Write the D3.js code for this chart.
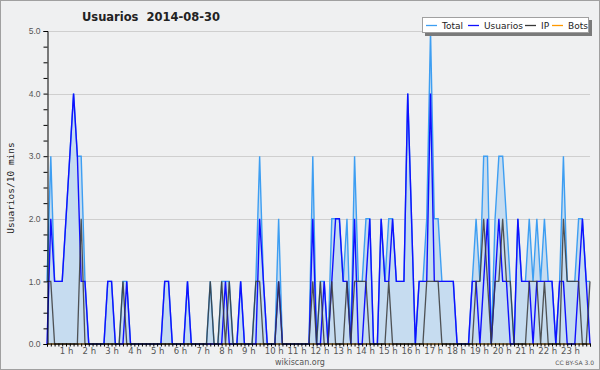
<!DOCTYPE html>
<html>
<head>
<meta charset="utf-8">
<script src="https://cdn.jsdelivr.net/npm/d3@7.9.0/dist/d3.min.js"></script>
<style>
  html, body { margin: 0; padding: 0; background: #fff; }
  svg { display: block; font-family: "DejaVu Sans", sans-serif; }
</style>
</head>
<body>
<div id="chart"></div>
<script>
// 10-minute slots, 00:00 .. 23:50
const usuarios = [
  0,2,1,1,1,2,3,4,3,1,
  1,0,0,0,0,0,1,1,0,0,
  0,1,0,0,0,0,0,0,0,0,
  0,1,1,0,0,0,0,1,0,0,
  0,0,0,0,0,0,0,1,0,0,
  0,1,0,0,0,0,2,1,0,0,
  0,1,0,0,0,0,0,0,0,0,
  2,0,0,1,0,1,2,2,1,1,
  0,2,0,0,1,2,0,0,2,1,
  1,2,1,1,1,4,2,0,1,1,
  1,4,1,1,1,1,1,1,0,0,
  0,0,1,1,0,1,2,0,1,2,
  1,1,0,0,2,1,1,1,0,1,
  1,1,1,1,0,1,1,0,0,0,
  1,2,1,0
];
const ip = [
  1,1,0,0,0,0,0,0,0,2,
  0,0,0,0,0,0,0,0,0,0,
  1,0,0,0,0,0,0,0,0,0,
  0,0,0,0,0,0,0,0,0,0,
  0,0,0,1,0,0,1,0,1,0,
  0,0,0,0,0,1,1,0,0,0,
  0,1,0,0,0,0,0,0,0,0,
  1,0,1,0,0,1,0,0,0,1,
  0,1,1,1,1,0,0,0,0,0,
  1,0,0,0,0,0,0,0,0,0,
  1,1,1,1,0,0,0,0,0,0,
  0,0,0,1,1,2,1,0,1,1,
  2,1,1,0,0,0,0,1,1,1,
  0,1,0,0,0,0,2,1,1,1,
  1,0,0,1
];
const total = [
  1,3,1,1,1,2,3,4,3,3,
  1,0,0,0,0,0,1,1,0,0,
  1,1,0,0,0,0,0,0,0,0,
  0,1,1,0,0,0,0,1,0,0,
  0,0,0,1,0,0,1,1,1,0,
  0,1,0,0,0,1,3,1,0,0,
  0,2,0,0,0,0,0,0,0,0,
  3,0,1,1,0,2,2,2,1,2,
  0,3,1,1,2,2,0,0,2,1,
  2,2,1,1,1,4,2,0,1,1,
  2,5,2,2,1,1,1,1,0,0,
  0,0,1,2,1,3,3,0,2,3,
  3,2,1,0,2,1,1,2,1,2,
  1,2,1,1,0,1,3,1,1,1,
  2,2,1,1
];
const bots = [
  0,0,0,0,0,0,0,0,0,0, 0,0,0,0,0,0,0,0,0,0,
  0,0,0,0,0,0,0,0,0,0, 0,0,0,0,0,0,0,0,0,0,
  0,0,0,0,0,0,0,0,0,0, 0,0,0,0,0,0,0,0,0,0,
  0,0,0,0,0,0,0,0,0,0, 0,0,0,0,0,0,0,0,0,0,
  0,0,0,0,0,0,0,0,0,0, 0,0,0,0,0,0,0,0,0,0,
  0,0,0,0,0,0,0,0,0,0, 0,0,0,0,0,0,0,0,0,0,
  0,0,0,0,0,0,0,0,0,0, 0,0,0,0,0,0,0,0,0,0,
  0,0,0,0
];

const hourLabels = ['1 h','2 h','3 h','4 h','5 h','6 h','7 h','8 h','9 h','10 h','11 h','12 h',
  '13 h','14 h','15 h','16 h','17 h','18 h','19 h','20 h','21 h','22 h','23 h'];
const yTicks = [0, 1, 2, 3, 4, 5];

const series = [
  { name: 'Total', values: total, color: '#3d9ef2' },
  { name: 'Usuarios', values: usuarios, color: '#1010ff' },
  { name: 'IP', values: ip, color: '#383838' },
  { name: 'Bots', values: bots, color: '#ff9900' },
];

const width = 600;
const height = 370;
const margin = { top: 31, right: 10, bottom: 26, left: 47 };

const svg = d3.select('#chart')
  .append('svg')
  .attr('width', width)
  .attr('height', height);

// background + frame
svg.append('rect')
  .attr('x', 0.5).attr('y', 0.5)
  .attr('width', width - 1).attr('height', height - 1)
  .attr('fill', '#eff0f1')
  .attr('stroke', '#a0a0a0');

const xScale = d3.scaleLinear()
  .domain([0, total.length - 1])
  .range([margin.left, width - margin.right]);

const yScale = d3.scaleLinear()
  .domain([0, 5])
  .range([height - margin.bottom, margin.top]);

// gridlines
svg.append('g')
  .attr('class', 'gridlines')
  .selectAll('line')
  .data(yTicks.slice(1))
  .join('line')
  .attr('x1', margin.left)
  .attr('x2', width - margin.right)
  .attr('y1', (d) => Math.round(yScale(d)) + 0.5)
  .attr('y2', (d) => Math.round(yScale(d)) + 0.5)
  .attr('stroke', '#cfcfcf');

// area under Total
const area = d3.area()
  .x((d, i) => xScale(i))
  .y0(yScale(0))
  .y1((d) => yScale(d));

svg.append('path')
  .datum(total)
  .attr('d', area)
  .attr('fill', '#c6dcf0');

const line = d3.line()
  .x((d, i) => xScale(i))
  .y((d) => yScale(d));

// Bots first (it stays hidden under the x axis), IP on top
const drawOrder = [series[3], series[0], series[1], series[2]];
svg.append('g')
  .attr('class', 'lines')
  .selectAll('path')
  .data(drawOrder)
  .join('path')
  .attr('d', (s) => line(s.values))
  .attr('fill', 'none')
  .attr('stroke', (s) => s.color)
  .attr('stroke-width', (s) => (s.name === 'Bots' ? 1 : s.name === 'IP' ? 1.3 : 1.4))
  .attr('stroke-opacity', (s) => (s.name === 'IP' ? 0.85 : 1))
  .attr('stroke-linejoin', 'miter');

// y axis with minor ticks every 0.25
const yAxis = d3.axisLeft(yScale)
  .tickValues(d3.range(0, 5.01, 0.25))
  .tickSize(4)
  .tickFormat((d) => (Number.isInteger(d) ? d.toFixed(1) : ''));

const yG = svg.append('g')
  .attr('transform', `translate(${margin.left + 0.5}, 0)`)
  .call(yAxis);
yG.select('.domain').attr('stroke', '#000');
yG.selectAll('.tick line').attr('stroke', '#000');
yG.selectAll('.tick text')
  .attr('x', -7)
  .attr('fill', '#555')
  .style('font-size', '8.5px');

// x axis, a tick per 10 minutes, labels per hour
const xAxis = d3.axisBottom(xScale)
  .tickValues(d3.range(0, total.length))
  .tickSize(3)
  .tickFormat('');

const xG = svg.append('g')
  .attr('transform', `translate(0, ${height - margin.bottom - 0.5})`)
  .call(xAxis);
xG.select('.domain').attr('stroke', '#000');
xG.selectAll('.tick line').attr('stroke', '#000');

svg.append('g')
  .attr('class', 'hour-labels')
  .selectAll('text')
  .data(hourLabels)
  .join('text')
  .attr('x', (d, i) => xScale((i + 1) * 6) - 10)
  .attr('y', height - margin.bottom + 9.5)
  .attr('fill', '#555')
  .style('font-size', '8.5px')
  .text((d) => d);

// title
svg.append('text')
  .attr('x', 151)
  .attr('y', 21)
  .attr('text-anchor', 'middle')
  .style('font-weight', 'bold')
  .style('font-size', '11.5px')
  .style('white-space', 'pre')
  .attr('fill', '#222')
  .text('Usuarios  2014-08-30');

// y axis title
svg.append('text')
  .attr('transform', 'translate(14, 188) rotate(-90)')
  .attr('text-anchor', 'middle')
  .style('font-family', '"DejaVu Sans Mono", monospace')
  .style('font-size', '9.5px')
  .attr('fill', '#222')
  .text('Usuarios/10 mins');

// legend
const legend = svg.append('g').attr('transform', 'translate(422, 17)');
legend.append('rect')
  .attr('x', 3).attr('y', 3)
  .attr('width', 167).attr('height', 16)
  .attr('fill', '#7a7a7a');
legend.append('rect')
  .attr('x', 0.5).attr('y', 0.5)
  .attr('width', 166).attr('height', 15)
  .attr('fill', '#fff')
  .attr('stroke', '#a0a0a0');

const legendX = [4, 46, 103, 130];
const items = legend.selectAll('g.item')
  .data(series)
  .join('g')
  .attr('class', 'item')
  .attr('transform', (d, i) => `translate(${legendX[i]}, 0)`);
items.append('line')
  .attr('x1', 0).attr('x2', 11)
  .attr('y1', 8.5).attr('y2', 8.5)
  .attr('stroke', (d) => d.color)
  .attr('stroke-width', 1.3);
items.append('text')
  .attr('x', 16)
  .attr('y', 11.5)
  .style('font-size', '9px')
  .attr('fill', '#222')
  .text((d) => d.name);

// footer
svg.append('text')
  .attr('x', 300)
  .attr('y', 365)
  .attr('text-anchor', 'middle')
  .style('font-size', '8px')
  .attr('fill', '#555')
  .text('wikiscan.org');

svg.append('text')
  .attr('x', 594)
  .attr('y', 365)
  .attr('text-anchor', 'end')
  .style('font-size', '6px')
  .attr('fill', '#555')
  .text('CC BY-SA 3.0');
</script>
</body>
</html>
